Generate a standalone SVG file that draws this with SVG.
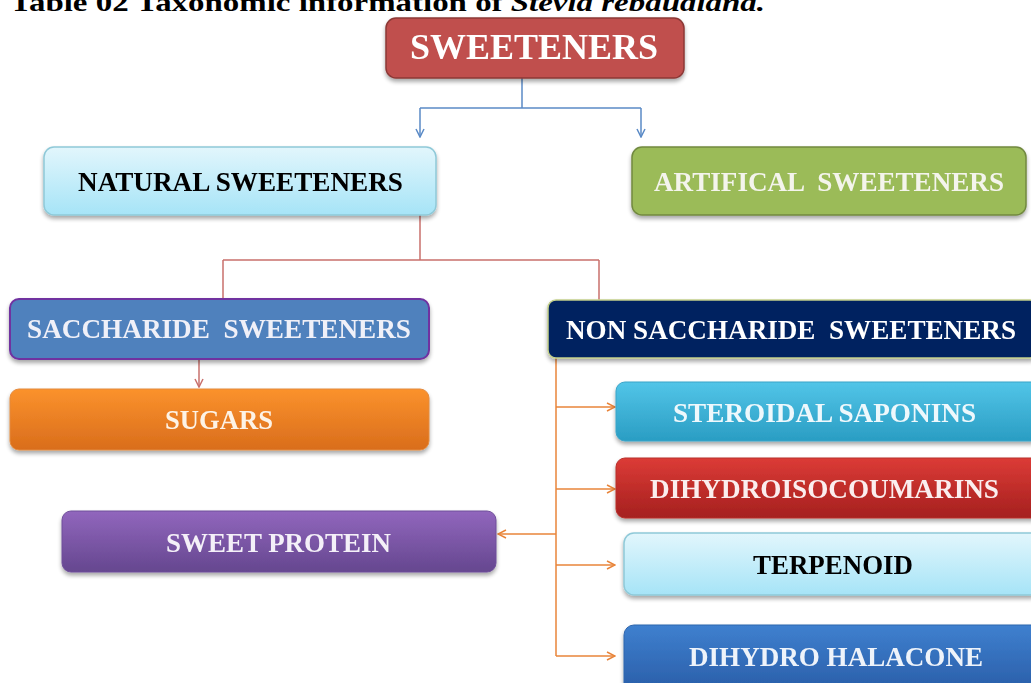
<svg xmlns="http://www.w3.org/2000/svg" width="1031" height="683" viewBox="0 0 1031 683">
<defs>
<style>
.t{font-family:"Liberation Serif","Times New Roman",serif;font-weight:bold;font-size:26.5px;text-anchor:start}
.big{font-size:36px}
.w{fill:#ffffff}
.k{fill:#000000}
.blue{stroke:#5a8ac6;stroke-width:1.5;fill:none}
.red{stroke:#c9706c;stroke-width:1.5;fill:none}
.org{stroke:#e8843a;stroke-width:1.5;fill:none}
</style>
<filter id="sh" x="-5%" y="-10%" width="110%" height="130%">
<feGaussianBlur in="SourceAlpha" stdDeviation="2"/>
<feOffset dx="0" dy="3" result="b"/>
<feComponentTransfer><feFuncA type="linear" slope="0.35"/></feComponentTransfer>
<feMerge><feMergeNode/><feMergeNode in="SourceGraphic"/></feMerge>
</filter>
<linearGradient id="gCyan" x1="0" y1="0" x2="0" y2="1"><stop offset="0" stop-color="#e2f6fc"/><stop offset="1" stop-color="#a6e4f7"/></linearGradient>
<linearGradient id="gOrange" x1="0" y1="0" x2="0" y2="1"><stop offset="0" stop-color="#fb922c"/><stop offset="1" stop-color="#d96d1c"/></linearGradient>
<linearGradient id="gSky" x1="0" y1="0" x2="0" y2="1"><stop offset="0" stop-color="#52c5e8"/><stop offset="1" stop-color="#2a9dc3"/></linearGradient>
<linearGradient id="gRed" x1="0" y1="0" x2="0" y2="1"><stop offset="0" stop-color="#dc3b36"/><stop offset="1" stop-color="#a5201f"/></linearGradient>
<linearGradient id="gPurple" x1="0" y1="0" x2="0" y2="1"><stop offset="0" stop-color="#9166bd"/><stop offset="1" stop-color="#65478f"/></linearGradient>
<linearGradient id="gBlue" x1="0" y1="0" x2="0" y2="1"><stop offset="0" stop-color="#3f80cf"/><stop offset="1" stop-color="#285ca6"/></linearGradient>
<marker id="aB" viewBox="0 0 10 10" refX="9" refY="5" markerWidth="10" markerHeight="10" markerUnits="userSpaceOnUse" orient="auto"><path d="M1,1 L9,5 L1,9" fill="none" stroke="#5a8ac6" stroke-width="1.5"/></marker>
<marker id="aR" viewBox="0 0 10 10" refX="9" refY="5" markerWidth="10" markerHeight="10" markerUnits="userSpaceOnUse" orient="auto"><path d="M1,1 L9,5 L1,9" fill="none" stroke="#c9706c" stroke-width="1.5"/></marker>
<marker id="aO" viewBox="0 0 10 10" refX="9" refY="5" markerWidth="10" markerHeight="10" markerUnits="userSpaceOnUse" orient="auto"><path d="M1,1 L9,5 L1,9" fill="none" stroke="#e8843a" stroke-width="1.5"/></marker>
</defs>
<rect width="1031" height="683" fill="#ffffff"/>
<text x="10" y="11" font-family="Liberation Serif, serif" font-weight="bold" font-size="26" textLength="755" lengthAdjust="spacingAndGlyphs">Table 02 Taxonomic information of <tspan font-style="italic">Stevia rebaudiana.</tspan></text>

<g id="connectors">
<path class="blue" d="M522,78 V108"/>
<path class="blue" d="M420,108 H641"/>
<path class="blue" d="M420,108 V137" marker-end="url(#aB)"/>
<path class="blue" d="M641,108 V137" marker-end="url(#aB)"/>
<path class="red" d="M420,215 V260 M223,260 H599 M223,260 V300 M599,260 V303"/>
<path class="red" d="M199,359 V387" marker-end="url(#aR)"/>
<path class="org" d="M556,358 V656"/>
<path class="org" d="M556,407 H615" marker-end="url(#aO)"/>
<path class="org" d="M556,489 H615" marker-end="url(#aO)"/>
<path class="org" d="M556,534 H498" marker-end="url(#aO)"/>
<path class="org" d="M556,565 H615" marker-end="url(#aO)"/>
<path class="org" d="M556,656 H615" marker-end="url(#aO)"/>
</g>

<g id="sweeteners" filter="url(#sh)">
<rect x="386" y="18" width="298" height="60" rx="10" fill="#c0504d" stroke="#8c3836" stroke-width="1.5"/>
<text class="t big w" x="410" y="59" textLength="248" lengthAdjust="spacingAndGlyphs">SWEETENERS</text>
</g>
<g id="natural" filter="url(#sh)">
<rect x="44" y="147" width="392" height="68" rx="10" fill="url(#gCyan)" stroke="#8fc9d8" stroke-width="1.5"/>
<text class="t k" x="78" y="191" textLength="325" lengthAdjust="spacingAndGlyphs">NATURAL SWEETENERS</text>
</g>
<g id="artificial" filter="url(#sh)">
<rect x="632" y="147" width="394" height="68" rx="10" fill="#9bbb59" stroke="#71893f" stroke-width="1.5"/>
<text class="t" fill="#f4f4ec" x="654" y="191" xml:space="preserve" textLength="350" lengthAdjust="spacingAndGlyphs">ARTIFICAL  SWEETENERS</text>
</g>
<g id="saccharide" filter="url(#sh)">
<rect x="10" y="299" width="419" height="60" rx="9" fill="#4f81bd" stroke="#7030a0" stroke-width="2"/>
<text class="t" fill="#f0f0f8" x="27" y="338" xml:space="preserve" textLength="384" lengthAdjust="spacingAndGlyphs">SACCHARIDE  SWEETENERS</text>
</g>
<g id="sugars" filter="url(#sh)">
<rect x="10" y="389" width="419" height="61" rx="9" fill="url(#gOrange)" stroke="#e38a3e" stroke-width="1"/>
<text class="t" fill="#fdf3e6" x="165" y="429" textLength="108" lengthAdjust="spacingAndGlyphs">SUGARS</text>
</g>
<g id="nonsaccharide" filter="url(#sh)">
<rect x="548" y="300" width="490" height="58" rx="8" fill="#002060" stroke="#c3d08a" stroke-width="1.5"/>
<text class="t w" x="566" y="339" xml:space="preserve" textLength="450" lengthAdjust="spacingAndGlyphs">NON SACCHARIDE  SWEETENERS</text>
</g>
<g id="steroidal" filter="url(#sh)">
<rect x="616" y="382" width="425" height="59" rx="9" fill="url(#gSky)" stroke="#3aa4c8" stroke-width="1"/>
<text class="t" fill="#eef8fc" x="673" y="422" textLength="303" lengthAdjust="spacingAndGlyphs">STEROIDAL SAPONINS</text>
</g>
<g id="dihydroisocoumarins" filter="url(#sh)">
<rect x="616" y="458" width="425" height="60" rx="9" fill="url(#gRed)" stroke="#b8302c" stroke-width="1"/>
<text class="t" fill="#fbeeee" x="650" y="498" textLength="349" lengthAdjust="spacingAndGlyphs">DIHYDROISOCOUMARINS</text>
</g>
<g id="sweetprotein" filter="url(#sh)">
<rect x="62" y="511" width="434" height="61" rx="9" fill="url(#gPurple)" stroke="#6f4f9a" stroke-width="1"/>
<text class="t" fill="#f4f0f8" x="166" y="552" textLength="225" lengthAdjust="spacingAndGlyphs">SWEET PROTEIN</text>
</g>
<g id="terpenoid" filter="url(#sh)">
<rect x="624" y="533" width="417" height="62" rx="10" fill="url(#gCyan)" stroke="#8fc9d8" stroke-width="1.5"/>
<text class="t k" x="753" y="574" textLength="160" lengthAdjust="spacingAndGlyphs">TERPENOID</text>
</g>
<g id="dihydrohalacone" filter="url(#sh)">
<rect x="624" y="625" width="417" height="70" rx="10" fill="url(#gBlue)" stroke="#2f66ad" stroke-width="1"/>
<text class="t" fill="#eef3fa" x="689" y="666" textLength="294" lengthAdjust="spacingAndGlyphs">DIHYDRO HALACONE</text>
</g>
</svg>
